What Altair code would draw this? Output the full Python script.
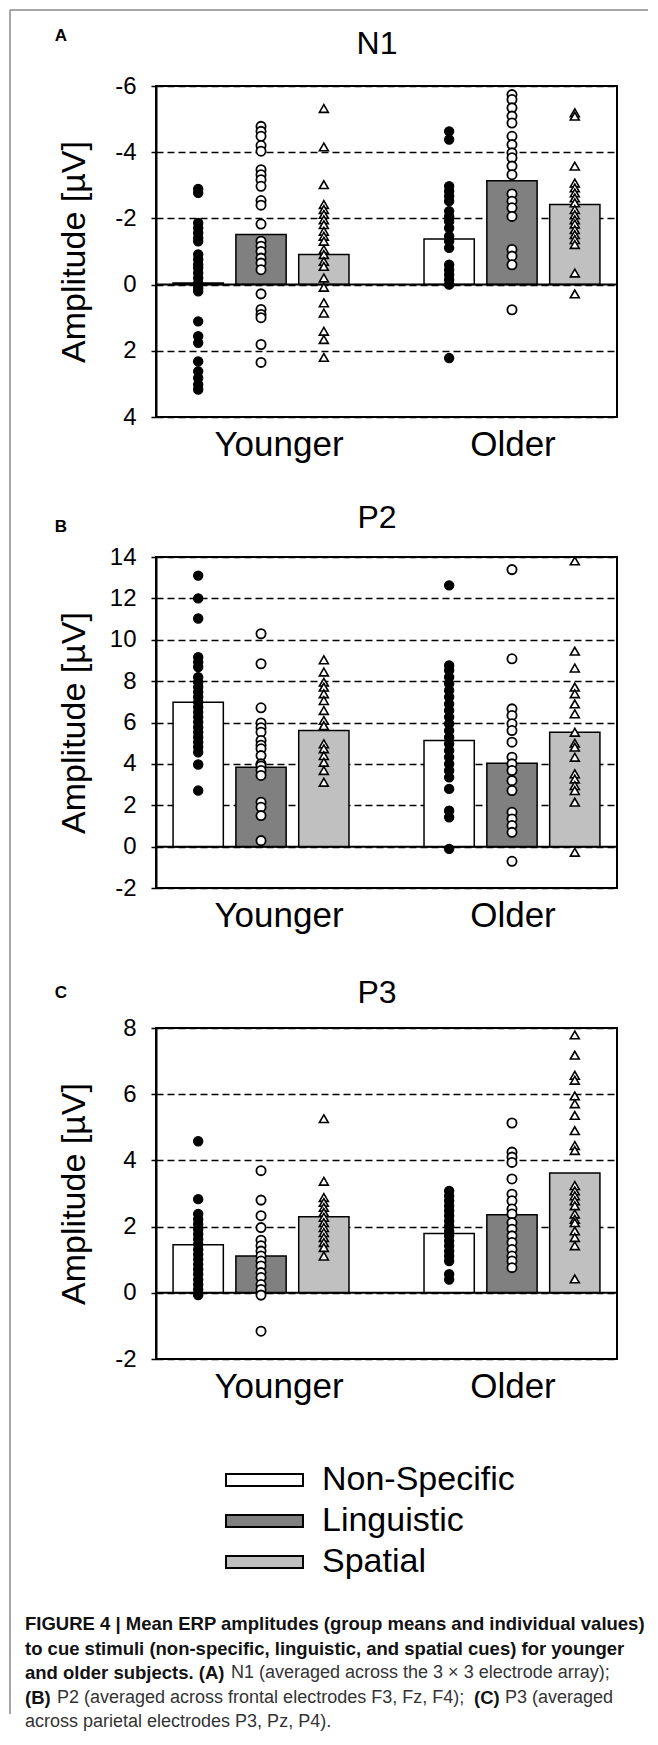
import altair as alt
import pandas as pd

groups = ["Younger", "Older"]
cues = ["Non-Specific", "Linguistic", "Spatial"]
panel_names = ["N1", "P2", "P3"]
panel_letters = ["A", "B", "C"]
bar_colors = ["#ffffff", "#808080", "#c0c0c0"]

# group means (bar heights), order = cues
n1_mean_younger = [-0.05, -1.51, -0.91]
n1_mean_older = [-1.38, -3.14, -2.42]
p2_mean_younger = [6.98, 3.84, 5.61]
p2_mean_older = [5.13, 4.03, 5.53]
p3_mean_younger = [1.45, 1.11, 2.30]
p3_mean_older = [1.79, 2.36, 3.62]

# individual values
n1_younger_nonspecific = [-2.89, -2.77, -1.86, -1.71, -1.56, -1.41, -1.31, -0.91, -0.76, -0.60, -0.50, -0.35,
                          -0.20, -0.05, 0.10, 0.20, 1.11, 1.56, 1.76, 2.32, 2.62, 2.82, 3.02, 3.17]
n1_younger_linguistic = [-4.78, -4.63, -4.48, -4.20, -4.03, -3.47, -3.32, -3.17, -2.97, -2.54, -2.40, -1.83,
                         -1.31, -1.16, -1.00, -0.80, -0.65, -0.45, 0.28, 0.75, 0.90, 1.00, 1.81, 2.35]
n1_younger_spatial = [-5.32, -4.16, -3.02, -2.42, -2.27, -2.12, -1.96, -1.81, -1.61, -1.46, -1.31, -1.06,
                      -0.91, -0.70, -0.55, -0.20, 0.08, 0.55, 0.86, 1.41, 1.66, 2.20]
n1_older_nonspecific = [-4.63, -4.38, -2.97, -2.82, -2.67, -2.52, -2.22, -2.06, -1.91, -1.71, -1.46, -1.31,
                        -1.11, -0.60, -0.45, -0.30, -0.15, 0.00, 2.22]
n1_older_linguistic = [-5.74, -5.59, -5.34, -5.09, -4.88, -4.48, -4.23, -3.98, -3.83, -3.58, -3.32, -2.74,
                       -2.52, -2.32, -2.06, -1.06, -0.86, -0.60, 0.76]
n1_older_spatial = [-5.19, -5.09, -3.58, -3.07, -2.92, -2.77, -2.62, -2.47, -2.27, -2.11, -1.96, -1.83,
                    -1.66, -1.51, -1.36, -1.21, -0.35, 0.28]

p2_younger_nonspecific = [13.10, 12.00, 11.03, 9.16, 8.92, 8.68, 8.19, 7.95, 7.71, 7.47, 7.23, 6.98, 6.74,
                          6.50, 6.26, 6.02, 5.77, 5.53, 5.29, 5.05, 4.81, 4.56, 3.97, 2.71]
p2_younger_linguistic = [10.29, 8.84, 6.71, 5.98, 5.75, 5.53, 5.13, 4.90, 4.73, 4.40, 4.00, 3.90, 3.68, 3.44,
                         2.15, 1.90, 1.50, 0.29]
p2_younger_spatial = [9.03, 8.44, 7.95, 7.71, 7.39, 7.06, 6.58, 6.10, 5.85, 4.97, 4.73, 4.40, 4.08, 3.68, 3.11]
p2_older_nonspecific = [12.63, 8.76, 8.52, 8.19, 7.87, 7.55, 7.23, 6.90, 6.58, 6.26, 5.94, 5.61, 5.29, 4.97,
                        4.65, 4.32, 4.00, 3.68, 3.35, 2.79, 1.74, 1.42, -0.11]
p2_older_linguistic = [13.39, 9.08, 6.66, 6.34, 5.94, 5.61, 5.05, 4.32, 4.00, 3.68, 3.19, 2.71, 1.66, 1.34,
                       1.02, 0.69, -0.71]
p2_older_spatial = [13.81, 9.45, 8.63, 7.71, 7.39, 6.90, 6.42, 5.53, 5.00, 4.81, 4.32, 3.52, 3.27, 2.95,
                    2.71, 2.15, -0.27]

p3_younger_nonspecific = [4.58, 2.83, 2.38, 2.22, 2.07, 1.92, 1.77, 1.62, 1.47, 1.31, 1.16, 1.01, 0.86, 0.71,
                          0.56, 0.40, 0.25, 0.10, -0.07]
p3_younger_linguistic = [3.69, 2.80, 2.33, 1.97, 1.59, 1.42, 1.26, 1.11, 0.96, 0.81, 0.61, 0.46, 0.25, 0.10,
                         -0.07, -1.16]
p3_younger_spatial = [5.26, 3.37, 2.88, 2.73, 2.58, 2.43, 2.28, 2.12, 1.97, 1.82, 1.67, 1.52, 1.37, 1.11]
p3_older_nonspecific = [3.08, 2.93, 2.78, 2.63, 2.48, 2.33, 2.17, 2.02, 1.87, 1.72, 1.57, 1.42, 1.26, 1.11,
                        0.96, 0.56, 0.40]
p3_older_linguistic = [5.13, 4.25, 4.10, 3.94, 3.44, 2.98, 2.78, 2.53, 2.38, 2.12, 1.92, 1.72, 1.52, 1.31,
                       1.11, 0.96, 0.76]
p3_older_spatial = [7.79, 7.18, 6.57, 6.42, 5.95, 5.71, 5.36, 4.90, 4.45, 4.30, 3.24, 3.08, 2.93, 2.78, 2.63,
                    2.38, 2.22, 2.12, 1.87, 1.67, 1.42, 0.42]

n1_ticks = [-6, -4, -2, 0, 2, 4]
p2_ticks = [-2, 0, 2, 4, 6, 8, 10, 12, 14]
p3_ticks = [-2, 0, 2, 4, 6, 8]

y_title = "Amplitude [µV]"

caption_lines = [
    [("FIGURE 4 | Mean ERP amplitudes (group means and individual values)", "bold")],
    [("to cue stimuli (non-specific, linguistic, and spatial cues) for younger", "bold")],
    [("and older subjects. (A)", "bold"), ("N1 (averaged across the 3 × 3 electrode array);", "normal")],
    [("(B)", "bold"), ("P2 (averaged across frontal electrodes F3, Fz, F4);", "normal"),
     ("(C)", "bold"), ("P3 (averaged", "normal")],
    [("across parietal electrodes P3, Pz, P4).", "normal")],
]

# ---------------- layout / style (pixels) ----------------
PW, PH = 461, 331
SPACING = 140
FONT = "Liberation Sans"
title_dy = [-42, -39, -35]
letter_dy = [-50, -30, -35]
caption_x = [[-131], [-131], [-131, 75], [-131, -99, 318, 349], [-131]]
caption_y0, caption_dy = 125, 24.5
cap_size = {"bold": 18.5, "normal": 18}
legend_range = [-19, 63]

panels_data = [
    (n1_mean_younger, n1_mean_older,
     [n1_younger_nonspecific, n1_younger_linguistic, n1_younger_spatial],
     [n1_older_nonspecific, n1_older_linguistic, n1_older_spatial], [-6, 4], n1_ticks, True),
    (p2_mean_younger, p2_mean_older,
     [p2_younger_nonspecific, p2_younger_linguistic, p2_younger_spatial],
     [p2_older_nonspecific, p2_older_linguistic, p2_older_spatial], [-2, 14], p2_ticks, False),
    (p3_mean_younger, p3_mean_older,
     [p3_younger_nonspecific, p3_younger_linguistic, p3_younger_spatial],
     [p3_older_nonspecific, p3_older_linguistic, p3_older_spatial], [-2, 8], p3_ticks, False),
]

one_row = alt.Data(values=[{"a": 1}])


def make_panel(i):
    mean_y, mean_o, pts_y, pts_o, dom, ticks, rev = panels_data[i]
    bars = pd.DataFrame(
        [{"group": "Younger", "cue": c, "value": v} for c, v in zip(cues, mean_y)]
        + [{"group": "Older", "cue": c, "value": v} for c, v in zip(cues, mean_o)]
    )
    rows = []
    for g, lists in (("Younger", pts_y), ("Older", pts_o)):
        for c, vals in zip(cues, lists):
            rows += [{"group": g, "cue": c, "value": v} for v in vals]
    pts = pd.DataFrame(rows)

    x_enc = alt.X(
        "group:N",
        sort=groups,
        scale=alt.Scale(domain=groups, paddingInner=0.299, paddingOuter=0.068),
        axis=alt.Axis(
            title=None, ticks=False, domain=False, labelAngle=0,
            labelFontSize=35, labelFont=FONT, labelColor="black", labelPadding=10,
            labelOffset=alt.condition("datum.value == 'Younger'", alt.value(18), alt.value(1)),
        ),
    )
    xo_enc = alt.XOffset("cue:N", sort=cues,
                         scale=alt.Scale(domain=cues, paddingInner=0.2, paddingOuter=0))
    y_enc = alt.Y(
        "value:Q",
        scale=alt.Scale(domain=dom, reverse=rev, nice=False, zero=False),
        axis=alt.Axis(
            values=ticks,
            labelExpr="datum.value < 0 ? '-' + abs(datum.value) : '' + datum.value",
            grid=True, gridDash=[7, 4], gridColor="black", gridWidth=1.5, gridOpacity=1,
            domain=True, domainColor="black", domainWidth=2,
            ticks=True, tickSize=5, tickColor="black", tickWidth=1.5,
            labelFontSize=24, labelFont=FONT, labelColor="black", labelPadding=15,
            title=y_title, titleFontSize=34, titleFont=FONT, titleFontWeight="normal",
            titleColor="black", titleX=-82, titleY=PH / 2, titleBaseline="middle",
            titleAlign="center",
        ),
    )

    bar_layer = alt.Chart(bars).mark_bar(stroke="black", strokeWidth=1.5).encode(
        x=x_enc, xOffset=xo_enc, y=y_enc, y2=alt.datum(0),
        fill=alt.Fill("cue:N", scale=alt.Scale(domain=cues, range=bar_colors), legend=None),
    )
    zero = alt.Chart(one_row).mark_rule(color="black", strokeWidth=2).encode(y=alt.datum(0))

    styles = [
        dict(shape="circle", filled=True, fill="black", stroke="black", strokeWidth=1.2, size=85, opacity=1),
        dict(shape="circle", filled=True, fill="white", stroke="black", strokeWidth=1.8, size=85, opacity=1),
        dict(shape="triangle-up", filled=True, fill="white", stroke="black", strokeWidth=1.6, size=80, opacity=1),
    ]
    point_layers = []
    for c, st in zip(cues, styles):
        point_layers.append(
            alt.Chart(pts).transform_filter(alt.datum.cue == c).mark_point(**st).encode(
                x=alt.X("group:N", sort=groups), xOffset=alt.XOffset("cue:N", sort=cues),
                y=alt.Y("value:Q"),
            )
        )

    title_txt = alt.Chart(one_row).mark_text(
        fontSize=32, font=FONT, color="black", baseline="middle", align="center"
    ).encode(text=alt.value(panel_names[i]), x=alt.value(221), y=alt.value(title_dy[i]))
    letter_txt = alt.Chart(one_row).mark_text(
        fontSize=17, font=FONT, fontWeight="bold", color="black", baseline="middle", align="center"
    ).encode(text=alt.value(panel_letters[i]), x=alt.value(-95), y=alt.value(letter_dy[i]))

    layers = [bar_layer, zero, *point_layers, title_txt, letter_txt]
    if i == 0:
        # outer figure frame (left and top edges)
        frame_left = alt.Chart(one_row).mark_rule(color="#8a8a8a", strokeWidth=1.5).encode(
            x=alt.value(-146), y=alt.value(-76), y2=alt.value(1628))
        frame_top = alt.Chart(one_row).mark_rule(color="#8a8a8a", strokeWidth=1.5).encode(
            x=alt.value(-146), x2=alt.value(492), y=alt.value(-76))
        layers = [frame_left, frame_top] + layers

    return alt.layer(*layers).properties(
        width=PW, height=PH, view=alt.ViewBackground(stroke="black", strokeWidth=2)
    )


def make_bottom():
    legend_df = pd.DataFrame({"cue": cues})
    leg_y = alt.Y("cue:N", sort=cues, axis=None,
                  scale=alt.Scale(type="point", domain=cues, range=legend_range, padding=0))
    leg_sym = alt.Chart(legend_df).mark_point(
        shape="M-1,-0.156L1,-0.156L1,0.156L-1,0.156Z", size=5929, filled=True,
        stroke="black", strokeWidth=2, opacity=1,
    ).encode(
        y=leg_y, x=alt.value(108.5),
        fill=alt.Fill("cue:N", scale=alt.Scale(domain=cues, range=bar_colors), legend=None),
    )
    leg_txt = alt.Chart(legend_df).mark_text(
        fontSize=34, font=FONT, color="black", align="left", baseline="middle",
    ).encode(y=leg_y, x=alt.value(166), text="cue:N")

    layers = [leg_sym, leg_txt]
    for li, (segs, xs) in enumerate(zip(caption_lines, caption_x)):
        for (txt, wt), x0 in zip(segs, xs):
            layers.append(
                alt.Chart(one_row).mark_text(
                    fontSize=cap_size[wt], font=FONT, fontWeight=wt,
                    color="#111111" if wt == "bold" else "#333333",
                    align="left", baseline="middle",
                ).encode(text=alt.value(txt), x=alt.value(x0),
                         y=alt.value(caption_y0 + li * caption_dy))
            )
    return alt.layer(*layers).properties(width=PW, height=200)


chart = alt.vconcat(
    make_panel(0), make_panel(1), make_panel(2), make_bottom(),
    spacing=SPACING, bounds="flush",
).resolve_scale(
    x="independent", y="independent", fill="independent", xOffset="independent"
).properties(
    padding={"left": 0, "top": 0, "right": 0, "bottom": 0}
).configure(font=FONT).configure_view(strokeWidth=0)

chart.save("out.html", embed_options={"renderer": "svg", "actions": False})
